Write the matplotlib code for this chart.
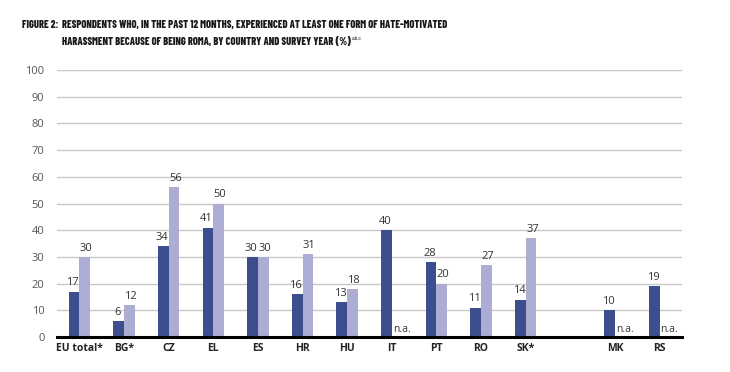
import numpy as np
import matplotlib
matplotlib.use("Agg")
import matplotlib.pyplot as plt

# data
countries = ["EU total*", "BG*", "CZ", "EL", "ES", "HR", "HU", "IT", "PT", "RO", "SK*", "MK", "RS"]
positions = [0, 1, 2, 3, 4, 5, 6, 7, 8, 9, 10, 12, 13]
year_a = [17, 6, 34, 41, 30, 16, 13, 40, 28, 11, 14, 10, 19]
year_b = [30, 12, 56, 50, 30, 31, 18, None, 20, 27, 37, None, None]
yticks = [0, 10, 20, 30, 40, 50, 60, 70, 80, 90, 100]

dark = "#3d4e8e"
light = "#adadd3"
txt = "#333333"

plt.rcParams["font.family"] = ["Open Sans", "DejaVu Sans"]

fig = plt.figure(figsize=(7.3, 3.72), dpi=100)
ax = fig.add_axes([57 / 730, 1 - 337 / 372, (682 - 57) / 730, (337 - 70) / 372])

w = 0.24
for x, a, b in zip(positions, year_a, year_b):
    ax.bar(x - w / 2, a, w, color=dark, zorder=3)
    ax.text(x - w / 2 - 0.03, a + 1.2, str(a), ha="center", va="bottom", fontsize=8, color=txt)
    if b is None:
        ax.text(x + 0.02, 0.8, "n.a.", ha="left", va="bottom", fontsize=7.5, color=txt)
    else:
        ax.bar(x + w / 2, b, w, color=light, zorder=3)
        ax.text(x + w / 2 + 0.03, b + 1.2, str(b), ha="center", va="bottom", fontsize=8, color=txt)

ax.set_xlim(-0.5, 13.5)
ax.set_ylim(0, 100)
ax.set_yticks(yticks)
ax.set_yticklabels([str(t) for t in yticks], fontsize=8, color="#555555")
ax.set_xticks(positions)
ax.set_xticklabels(countries, fontsize=7.5, fontweight="bold", color="#222222")
ax.tick_params(axis="y", length=0, pad=9)
ax.tick_params(axis="x", length=0, pad=4)
ax.grid(axis="y", color="#c8c8c8", linewidth=1, zorder=0)
for s in ["top", "right", "left"]:
    ax.spines[s].set_visible(False)
ax.spines["bottom"].set_linewidth(2.2)
ax.spines["bottom"].set_color("black")
ax.spines["bottom"].set_zorder(4)

tfont = ["Barlow Condensed", "Archivo Narrow", "DejaVu Sans"]
tw = 800
tsize = 7.5
fig.text(22 / 730, 1 - 25 / 372, "FIGURE 2:", fontsize=tsize, fontweight=tw,
         family=tfont, va="center", color="#1a1a1a")
fig.text(62 / 730, 1 - 25 / 372,
         "RESPONDENTS WHO, IN THE PAST 12 MONTHS, EXPERIENCED AT LEAST ONE FORM OF HATE-MOTIVATED",
         fontsize=tsize, fontweight=tw, family=tfont, va="center", color="#1a1a1a")
line2 = fig.text(62 / 730, 1 - 42 / 372,
                 "HARASSMENT BECAUSE OF BEING ROMA, BY COUNTRY AND SURVEY YEAR (%)",
                 fontsize=tsize, fontweight=tw, family=tfont, va="center", color="#1a1a1a")
fig.canvas.draw()
bb = line2.get_window_extent()
fig.text((bb.x1 + 1) / fig.bbox.width, 1 - 41 / 372, "a,b,c", fontsize=4.5,
         family=tfont, va="bottom", color="#1a1a1a")

fig.savefig("out.png", dpi=100)
